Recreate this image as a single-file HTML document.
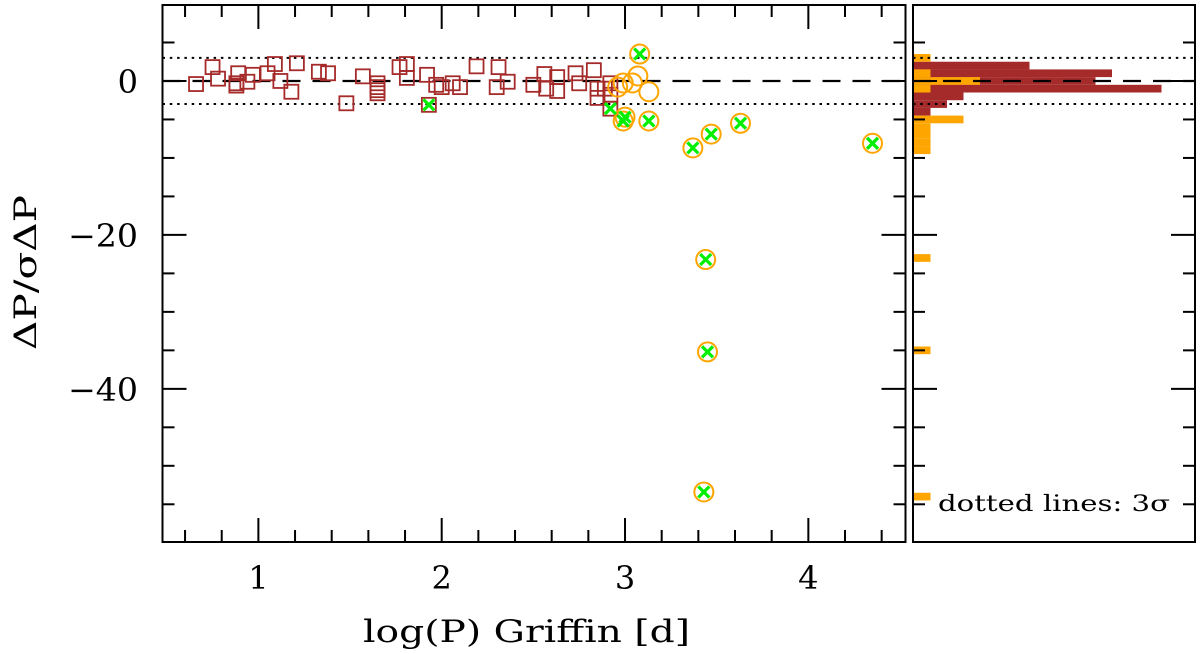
<!DOCTYPE html>
<html><head><meta charset="utf-8"><style>
html,body{margin:0;padding:0;background:#fff;width:1200px;height:654px;overflow:hidden}
text{font-family:"DejaVu Serif","Liberation Serif",serif;fill:#000}
</style></head><body>
<svg id="chart" width="1200" height="654" viewBox="0 0 1200 654" xmlns="http://www.w3.org/2000/svg"></svg>
<script>
// ---- data ----
const sqX=[0.66,0.75,0.78,0.89,0.88,0.88,0.94,0.97,1.05,1.09,1.12,1.18,1.21,1.33,1.38,1.48,1.57,1.65,1.65,1.65,1.65,1.77,1.81,1.81,1.92,1.97,2.00,2.06,2.10,2.19,2.31,2.30,2.36,2.50,2.56,2.57,2.63,2.63,2.73,2.75,2.83,2.85,2.85,2.89,2.92,2.92,1.93,2.92];
const sqY=[-0.4,1.8,0.3,1.0,-0.3,-0.6,-0.1,0.8,1.0,2.2,0.0,-1.4,2.3,1.2,1.0,-2.9,0.6,-0.3,-0.8,-1.2,-1.6,1.8,2.2,0.4,0.8,-0.5,-0.8,-0.3,-0.8,1.9,1.8,-0.8,-0.1,-0.5,0.9,-1.0,0.5,-1.3,1.0,-0.3,1.4,-1.0,-2.2,-1.0,-0.3,-1.8,-3.1,-3.6];
const sqFlag=[0,0,0,0,0,0,0,0,0,0,0,0,0,0,0,0,0,0,0,0,0,0,0,0,0,0,0,0,0,0,0,0,0,0,0,0,0,0,0,0,0,0,0,0,0,0,1,1];
const ciX=[3.08,3.07,3.04,2.99,2.96,3.13,2.99,3.00,3.13,3.37,3.47,3.63,4.35,3.44,3.45,3.43];
const ciY=[3.5,0.65,-0.26,-0.26,-0.8,-1.4,-5.2,-4.7,-5.2,-8.7,-6.9,-5.5,-8.1,-23.2,-35.2,-53.4];
const ciFlag=[1,0,0,0,0,0,1,1,1,1,1,1,1,1,1,1];
const redBinLo=[1.5,0.5,-0.5,-1.5,-2.5,-3.5,-4.5];
const redCounts=[7,12,11,15,3,2,1];
const orBinLo=[2.5,0.5,-0.5,-1.5,-5.5,-6.5,-7.5,-8.5,-9.5,-23.5,-35.5,-54.5];
const orCounts=[1,1,4,1,3,1,1,1,1,1,1,1];
const xTicks=[1,2,3,4];
const yTicks=[0,-20,-40];

const NS="http://www.w3.org/2000/svg";
const svg=document.getElementById('chart');
function el(t,a,p){const e=document.createElementNS(NS,t);for(const k in a)e.setAttribute(k,a[k]);(p||svg).appendChild(e);return e;}
const L=162.5,R=905.5,T=5,B=542,HL=913,HR=1195;
const xMin=0.477,xMax=4.53,yMin=-59.9,yMax=9.87;
const sx=v=>L+(v-xMin)/(xMax-xMin)*(R-L);
const sy=v=>T+(yMax-v)/(yMax-yMin)*(B-T);
const cnt=c=>c*16.5;

// histogram bars
const hg=el('g',{});


redBinLo.forEach((lo,i)=>{const r=el('rect',{x:HL+1,y:sy(lo+1),width:cnt(redCounts[i]),height:sy(lo)-sy(lo+1),fill:'#a52a2a'},hg);

});
orBinLo.forEach((lo,i)=>{const r=el('rect',{x:HL+1,y:sy(lo+1),width:cnt(orCounts[i]),height:sy(lo)-sy(lo+1),fill:'#ffa500'},hg);

});

// reference lines
[[L,R],[HL,HR]].forEach(([a,b])=>{
 const d=el('line',{x1:a,x2:b,y1:sy(0),y2:sy(0),stroke:'#000','stroke-width':2.2,'stroke-dasharray':'18 12'});
 
 
 [3,-3].forEach(v=>{const q=el('line',{x1:a,x2:b,y1:sy(v),y2:sy(v),stroke:'#000','stroke-width':2,'stroke-dasharray':'2.5 4.8'});
 
 });
});

// squares
sqX.forEach((x,i)=>{const s=el('rect',{x:sx(x)-7,y:sy(sqY[i])-7,width:14,height:14,fill:'none',stroke:'#a52a2a','stroke-width':1.8});

});
// circles
ciX.forEach((x,i)=>{const c=el('circle',{cx:sx(x),cy:sy(ciY[i]),r:9.5,fill:'none',stroke:'#ffa500','stroke-width':2});

});
// green crosses
function cross(x,y){const g=el('g',{stroke:'#00ee00','stroke-width':3.2});


el('line',{x1:x-5.5,y1:y-5.5,x2:x+5.5,y2:y+5.5},g);el('line',{x1:x-5.5,y1:y+5.5,x2:x+5.5,y2:y-5.5},g);}
sqX.forEach((x,i)=>{if(sqFlag[i])cross(sx(x),sy(sqY[i]));});
ciX.forEach((x,i)=>{if(ciFlag[i])cross(sx(x),sy(ciY[i]));});

// frames
const f1=el('rect',{x:L,y:T,width:R-L,height:B-T,fill:'none',stroke:'#000','stroke-width':2});


const f2=el('rect',{x:HL,y:T,width:HR-HL,height:B-T,fill:'none',stroke:'#000','stroke-width':2});



// ticks
const tg=el('g',{stroke:'#000','stroke-width':2});


for(let k=3;k<=22;k++){const v=k/5,X=sx(v);const maj=(k%5===0);const len=maj?24:12;
 el('line',{x1:X,x2:X,y1:B,y2:B-len},tg);el('line',{x1:X,x2:X,y1:T,y2:T+len},tg);}
for(let v=5;v>=-55;v-=5){const Y=sy(v);const maj=(v%20===0);const len=maj?24:12;
 el('line',{x1:L,x2:L+len,y1:Y,y2:Y},tg);el('line',{x1:R,x2:R-len,y1:Y,y2:Y},tg);
 el('line',{x1:HL,x2:HL+len,y1:Y,y2:Y},tg);el('line',{x1:HR,x2:HR-len,y1:Y,y2:Y},tg);}

// tick labels
xTicks.forEach(v=>{const t=el('text',{x:sx(v),y:589,'text-anchor':'middle','font-size':32});t.textContent=v;

});
yTicks.forEach(v=>{const t=el('text',{x:138,y:sy(v)+12,'text-anchor':'end','font-size':32});t.textContent=v===0?'0':'\u2212'+(-v);
if(v!==0){t.setAttribute('textLength',70);t.setAttribute('lengthAdjust','spacingAndGlyphs');}

});

// axis titles
const xt=el('text',{x:363,y:642,'font-size':31,textLength:327,lengthAdjust:'spacingAndGlyphs'});xt.textContent='log(P) Griffin [d]';


const yt=el('text',{x:0,y:0,'font-size':31,textLength:155,lengthAdjust:'spacingAndGlyphs',transform:'translate(36,350) rotate(-90)'});yt.textContent='\u0394P/\u03c3\u0394P';


const lg=el('text',{x:938,y:511,'font-size':22,textLength:232,lengthAdjust:'spacingAndGlyphs'});lg.textContent='dotted lines: 3\u03c3';


</script>
</body></html>
